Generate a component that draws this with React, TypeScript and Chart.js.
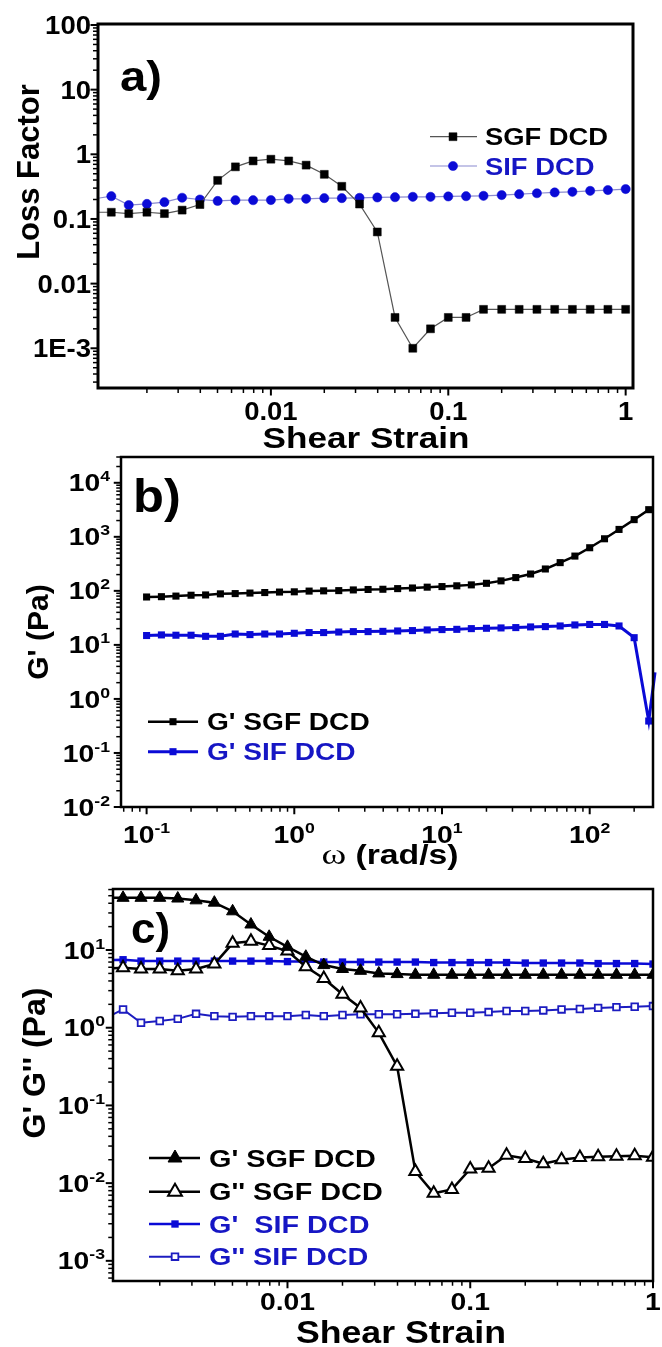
import React, { useEffect, useRef } from 'react';
import { Chart, registerables } from 'chart.js';

Chart.register(...registerables);

const SANS = '"Liberation Sans", Arial, Helvetica, sans-serif';
const SERIF = '"Liberation Serif", "Times New Roman", serif';
const INK = '#000000';
const BLUE = '#0a0ad6';
const BLUE_TEXT = '#1616c4';

// Shear strain sweep used in panels a) and c), ten points per decade
const strain = [
  0.001, 0.00126, 0.00158, 0.002, 0.00251, 0.00316, 0.00398, 0.00501, 0.00631, 0.00794,
  0.01, 0.0126, 0.0158, 0.02, 0.0251, 0.0316, 0.0398, 0.0501, 0.0631, 0.0794,
  0.1, 0.126, 0.158, 0.2, 0.251, 0.316, 0.398, 0.501, 0.631, 0.794, 1,
];

// a) loss factor (tan δ)
const lossSGF = [
  0.127, 0.127, 0.121, 0.127, 0.121, 0.137, 0.167, 0.395, 0.64, 0.79,
  0.84, 0.79, 0.68, 0.49, 0.32, 0.17, 0.063, 0.003, 0.001, 0.002,
  0.003, 0.003, 0.004, 0.004, 0.004, 0.004, 0.004, 0.004, 0.004, 0.004, 0.004,
];
const lossSIF = [
  0.204, 0.225, 0.164, 0.171, 0.182, 0.213, 0.2, 0.19, 0.195, 0.195,
  0.196, 0.205, 0.205, 0.21, 0.21, 0.212, 0.215, 0.217, 0.22, 0.22,
  0.223, 0.225, 0.228, 0.234, 0.242, 0.25, 0.257, 0.263, 0.272, 0.28, 0.29,
];

// b) frequency sweep, storage modulus
const omega = [
  0.1, 0.126, 0.158, 0.2, 0.251, 0.316, 0.398, 0.501, 0.631, 0.794,
  1, 1.26, 1.58, 2, 2.51, 3.16, 3.98, 5.01, 6.31, 7.94,
  10, 12.6, 15.8, 20, 25.1, 31.6, 39.8, 50.1, 63.1, 79.4,
  100, 126, 158, 200, 251,
];
const storageSGF = [
  77, 78, 80, 83, 84, 88, 89, 91, 93, 95,
  96, 99, 100, 101, 104, 106, 107, 110, 113, 117,
  120, 124, 129, 138, 153, 176, 205, 254, 333, 440,
  628, 920, 1370, 2080, 3180,
];
const omegaSIF = [
  0.1, 0.126, 0.158, 0.2, 0.251, 0.316, 0.398, 0.501, 0.631, 0.794,
  1, 1.26, 1.58, 2, 2.51, 3.16, 3.98, 5.01, 6.31, 7.94,
  10, 12.6, 15.8, 20, 25.1, 31.6, 39.8, 50.1, 63.1, 79.4,
  100, 126, 158, 200, 251, 277,
];
const storageSIF = [
  14.9, 15.3, 15.1, 15.1, 14.4, 14.4, 15.9, 15.5, 15.9, 15.9,
  16.4, 16.9, 16.9, 17.3, 17.6, 17.6, 17.8, 18.1, 18.4, 18.9,
  19.2, 19.4, 20.0, 20.3, 20.6, 20.9, 21.5, 21.8, 22.4, 23.4,
  23.9, 23.9, 22.4, 13.6, 0.39, 3.1,
];

// c) amplitude sweep, G' and G''
const gPrimeSGF = [
  47, 47, 47, 47, 46, 43.6, 40.7, 31.5, 21.3, 14.8,
  11, 8.2, 6.4, 5.7, 5.4, 5.0, 4.9, 4.8, 4.8, 4.8,
  4.8, 4.8, 4.8, 4.8, 4.8, 4.8, 4.8, 4.8, 4.8, 4.8, 4.8,
];
const gDoublePrimeSGF = [
  5.8, 5.9, 5.7, 5.7, 5.4, 5.7, 6.6, 12.2, 13.0, 11.4,
  9.7, 6.1, 4.3, 2.7, 1.8, 0.86, 0.32, 0.0141, 0.0074, 0.0083,
  0.0152, 0.0155, 0.0228, 0.0207, 0.0178, 0.02, 0.0214, 0.0219, 0.0222, 0.0225, 0.0216,
];
const gPrimeSIF = [
  7.4, 7.5, 7.2, 7.2, 7.2, 7.2, 7.2, 7.2, 7.2, 7.2,
  7.1, 7.1, 7.0, 7.0, 7.0, 7.0, 7.0, 7.0, 6.9, 6.9,
  6.9, 6.9, 6.9, 6.8, 6.8, 6.8, 6.8, 6.7, 6.7, 6.7, 6.6,
];
const gDoublePrimeSIF = [
  1.31, 1.72, 1.16, 1.22, 1.3, 1.51, 1.41, 1.38, 1.41, 1.41,
  1.41, 1.46, 1.41, 1.46, 1.49, 1.49, 1.49, 1.51, 1.53, 1.56,
  1.56, 1.59, 1.64, 1.64, 1.67, 1.72, 1.74, 1.8, 1.84, 1.86, 1.9,
];

// Tick labels
const aXTicks = [0.01, 0.1, 1];
const aXTickLabels = ['0.01', '0.1', '1'];
const aYTicks = [100, 10, 1, 0.1, 0.01, 0.001];
const aYTickLabels = ['100', '10', '1', '0.1', '0.01', '1E-3'];
const bXTicks = [0.1, 1, 10, 100];
const bXTickExp = ['-1', '0', '1', '2'];
const bYTicks = [10000, 1000, 100, 10, 1, 0.1, 0.01];
const bYTickExp = ['4', '3', '2', '1', '0', '-1', '-2'];
const cXTicks = [0.01, 0.1, 1];
const cXTickLabels = ['0.01', '0.1', '1'];
const cYTicks = [10, 1, 0.1, 0.01, 0.001];
const cYTickExp = ['1', '0', '-1', '-2', '-3'];

type Tick = { value: number; text: string; sup?: string };
type Marker = 'rect' | 'circle' | 'triangle';
type LegendEntry = {
  text: string;
  textColor: string;
  lineColor: string;
  lineWidth: number;
  marker: Marker;
  r: number;
  fill: string;
  stroke: string;
  markerLine: number;
};
type Run = { text: string; font: string };
type Decor = {
  frameWidth: number;
  majorLen: number;
  minorLen: number;
  tickFont: number;
  supFont: number;
  supRaise: number;
  tickSx: number;
  xTicks: Tick[];
  yTicks: Tick[];
  xLabelBaseline: number;
  yLabelRight: number;
  panel: { text: string; x: number; baseline: number; size: number; sx: number };
  xTitle: { runs: Run[]; cx: number; baseline: number; sx: number };
  yTitle: { text: string; cx: number; cy: number; size: number };
  legend: {
    x0: number; x1: number; xm: number; xt: number; ys: number[];
    size: number; sx: number; items: LegendEntry[];
  };
};

function drawMarker(
  ctx: CanvasRenderingContext2D, m: Marker, x: number, y: number, r: number,
  fill: string, stroke: string, lw: number,
) {
  ctx.beginPath();
  if (m === 'circle') {
    ctx.arc(x, y, r, 0, Math.PI * 2);
  } else if (m === 'rect') {
    const s = Math.SQRT1_2 * r;
    ctx.rect(x - s, y - s, 2 * s, 2 * s);
  } else {
    const a = (2 * Math.PI) / 3;
    ctx.moveTo(x, y - r);
    ctx.lineTo(x + Math.sin(a) * r, y - Math.cos(a) * r);
    ctx.lineTo(x + Math.sin(2 * a) * r, y - Math.cos(2 * a) * r);
    ctx.closePath();
  }
  ctx.fillStyle = fill;
  ctx.fill();
  if (lw > 0) {
    ctx.lineWidth = lw;
    ctx.strokeStyle = stroke;
    ctx.stroke();
  }
}

function wideText(ctx: CanvasRenderingContext2D, text: string, x: number, y: number, font: string, sx: number, color: string) {
  ctx.save();
  ctx.translate(x, y);
  ctx.scale(sx, 1);
  ctx.font = font;
  ctx.fillStyle = color;
  ctx.textAlign = 'left';
  ctx.textBaseline = 'alphabetic';
  ctx.fillText(text, 0, 0);
  ctx.restore();
}

function textWidth(ctx: CanvasRenderingContext2D, text: string, font: string) {
  ctx.font = font;
  return ctx.measureText(text).width;
}

function logSteps(min: number, max: number) {
  const out: { v: number; major: boolean }[] = [];
  for (let e = Math.floor(Math.log10(min)); e <= Math.ceil(Math.log10(max)); e++) {
    for (let m = 1; m <= 9; m++) {
      const v = m * Math.pow(10, e);
      if (v >= min * 0.9999 && v <= max * 1.0001) out.push({ v, major: m === 1 });
    }
  }
  return out;
}

function makeDecor(o: Decor) {
  return {
    id: 'decor',
    afterDatasetsDraw(chart: Chart) {
      const ctx = chart.ctx;
      const { left, right, top, bottom } = chart.chartArea;
      const xs: any = chart.scales.x;
      const ys: any = chart.scales.y;
      const fw = o.frameWidth;
      ctx.save();

      // frame
      ctx.strokeStyle = INK;
      ctx.lineWidth = fw;
      ctx.strokeRect(left, top, right - left, bottom - top);

      // outward ticks on the bottom and left axes
      ctx.lineCap = 'butt';
      for (const t of logSteps(xs.min, xs.max)) {
        const px = xs.getPixelForValue(t.v);
        ctx.lineWidth = t.major ? 2 : 1.5;
        ctx.beginPath();
        ctx.moveTo(px, bottom);
        ctx.lineTo(px, bottom + fw / 2 + (t.major ? o.majorLen : o.minorLen));
        ctx.stroke();
      }
      for (const t of logSteps(ys.min, ys.max)) {
        const py = ys.getPixelForValue(t.v);
        ctx.lineWidth = t.major ? 2 : 1.5;
        ctx.beginPath();
        ctx.moveTo(left, py);
        ctx.lineTo(left - fw / 2 - (t.major ? o.majorLen : o.minorLen), py);
        ctx.stroke();
      }

      // tick labels
      const baseFont = `bold ${o.tickFont}px ${SANS}`;
      const supFont = `bold ${o.supFont}px ${SANS}`;
      const label = (t: Tick, x: number, baseline: number, align: 'center' | 'right') => {
        const wb = textWidth(ctx, t.text, baseFont);
        const ws = t.sup ? textWidth(ctx, t.sup, supFont) : 0;
        const total = (wb + ws) * o.tickSx;
        const start = align === 'center' ? x - total / 2 : x - total;
        wideText(ctx, t.text, start, baseline, baseFont, o.tickSx, INK);
        if (t.sup) wideText(ctx, t.sup, start + wb * o.tickSx, baseline - o.supRaise, supFont, o.tickSx, INK);
      };
      for (const t of o.xTicks) label(t, xs.getPixelForValue(t.value), o.xLabelBaseline, 'center');
      const cap = o.tickFont * 0.716;
      for (const t of o.yTicks) label(t, o.yLabelRight, ys.getPixelForValue(t.value) + cap / 2, 'right');

      // axis titles
      const xt = o.xTitle;
      const widths = xt.runs.map((r) => textWidth(ctx, r.text, r.font) * xt.sx);
      let cursor = xt.cx - widths.reduce((a, b) => a + b, 0) / 2;
      xt.runs.forEach((r, i) => {
        wideText(ctx, r.text, cursor, xt.baseline, r.font, xt.sx, INK);
        cursor += widths[i];
      });
      const yt = o.yTitle;
      ctx.save();
      ctx.translate(yt.cx, yt.cy);
      ctx.rotate(-Math.PI / 2);
      ctx.font = `bold ${yt.size}px ${SANS}`;
      ctx.fillStyle = INK;
      ctx.textAlign = 'center';
      ctx.textBaseline = 'middle';
      ctx.fillText(yt.text, 0, 0);
      ctx.restore();

      // panel letter
      const p = o.panel;
      wideText(ctx, p.text, p.x, p.baseline, `bold ${p.size}px ${SANS}`, p.sx, INK);

      // legend
      const lg = o.legend;
      const lfont = `bold ${lg.size}px ${SANS}`;
      lg.items.forEach((it, i) => {
        const y = lg.ys[i];
        ctx.strokeStyle = it.lineColor;
        ctx.lineWidth = it.lineWidth;
        ctx.beginPath();
        ctx.moveTo(lg.x0, y);
        ctx.lineTo(lg.x1, y);
        ctx.stroke();
        drawMarker(ctx, it.marker, lg.xm, y, it.r, it.fill, it.stroke, it.markerLine);
        wideText(ctx, it.text, lg.xt, y + lg.size * 0.358, lfont, lg.sx, it.textColor);
      });

      ctx.restore();
    },
  };
}

const pairs = (xs: number[], ys: number[]) => xs.map((x, i) => ({ x, y: ys[i] }));

function baseOptions(pad: { left: number; right: number; top: number; bottom: number }, xr: number[], yr: number[]) {
  return {
    animation: false as const,
    responsive: true,
    maintainAspectRatio: false,
    events: [] as any[],
    layout: { padding: pad },
    plugins: { legend: { display: false }, tooltip: { enabled: false } },
    elements: { line: { tension: 0 } },
    scales: {
      x: { type: 'logarithmic' as const, min: xr[0], max: xr[1], display: false },
      y: { type: 'logarithmic' as const, min: yr[0], max: yr[1], display: false },
    },
  };
}

function buildA(canvas: HTMLCanvasElement) {
  const decor = makeDecor({
    frameWidth: 3, majorLen: 6, minorLen: 3.5,
    tickFont: 25, supFont: 15, supRaise: 10, tickSx: 1.1,
    xTicks: aXTicks.map((v, i) => ({ value: v, text: aXTickLabels[i] })),
    yTicks: aYTicks.map((v, i) => ({ value: v, text: aYTickLabels[i] })),
    xLabelBaseline: 420, yLabelRight: 91,
    panel: { text: 'a)', x: 120, baseline: 91, size: 43, sx: 1.1 },
    xTitle: { runs: [{ text: 'Shear Strain', font: `bold 30px ${SANS}` }], cx: 366, baseline: 448, sx: 1.17 },
    yTitle: { text: 'Loss Factor', cx: 30, cy: 172, size: 31 },
    legend: {
      x0: 430, x1: 477, xm: 453, xt: 485, ys: [136.7, 166], size: 24, sx: 1.14,
      items: [
        { text: 'SGF DCD', textColor: INK, lineColor: '#555555', lineWidth: 1.2, marker: 'rect', r: 5.6, fill: INK, stroke: INK, markerLine: 0.5 },
        { text: 'SIF DCD', textColor: BLUE_TEXT, lineColor: '#8a8ad0', lineWidth: 1.2, marker: 'circle', r: 4.6, fill: BLUE, stroke: BLUE, markerLine: 0.5 },
      ],
    },
  });
  return new Chart(canvas, {
    type: 'line',
    data: {
      datasets: [
        {
          label: 'SGF DCD', data: pairs(strain, lossSGF),
          borderColor: '#555555', borderWidth: 1.2,
          pointStyle: 'rect', pointRadius: 5.6, pointBackgroundColor: INK, pointBorderColor: INK, pointBorderWidth: 0.5,
        },
        {
          label: 'SIF DCD', data: pairs(strain, lossSIF),
          borderColor: '#8a8ad0', borderWidth: 1.2,
          pointStyle: 'circle', pointRadius: 4.6, pointBackgroundColor: BLUE, pointBorderColor: BLUE, pointBorderWidth: 0.5,
        },
      ],
    },
    options: baseOptions({ left: 98, right: 29, top: 24, bottom: 62 }, [0.00106, 1.1], [2.43e-4, 103.6]) as any,
    plugins: [decor as any],
  });
}

function buildB(canvas: HTMLCanvasElement) {
  const decor = makeDecor({
    frameWidth: 2.5, majorLen: 6, minorLen: 3.5,
    tickFont: 24, supFont: 15, supRaise: 10, tickSx: 1.18,
    xTicks: bXTicks.map((v, i) => ({ value: v, text: '10', sup: bXTickExp[i] })),
    yTicks: bYTicks.map((v, i) => ({ value: v, text: '10', sup: bYTickExp[i] })),
    xLabelBaseline: 403, yLabelRight: 110,
    panel: { text: 'b)', x: 133, baseline: 72, size: 46, sx: 1.1 },
    xTitle: {
      runs: [
        { text: 'ω', font: `30px ${SERIF}` },
        { text: ' (rad/s)', font: `bold 27px ${SANS}` },
      ],
      cx: 390, baseline: 424, sx: 1.25,
    },
    yTitle: { text: "G' (Pa)", cx: 40, cy: 192, size: 30 },
    legend: {
      x0: 148, x1: 198, xm: 173, xt: 207, ys: [281.7, 311.7], size: 24, sx: 1.17,
      items: [
        { text: "G' SGF DCD", textColor: INK, lineColor: INK, lineWidth: 2.5, marker: 'rect', r: 5, fill: INK, stroke: INK, markerLine: 0 },
        { text: "G' SIF DCD", textColor: BLUE_TEXT, lineColor: BLUE, lineWidth: 3, marker: 'rect', r: 5, fill: BLUE, stroke: BLUE, markerLine: 0 },
      ],
    },
  });
  return new Chart(canvas, {
    type: 'line',
    data: {
      datasets: [
        {
          label: "G' SGF DCD", data: pairs(omega, storageSGF),
          borderColor: INK, borderWidth: 2.5,
          pointStyle: 'rect', pointRadius: 5, pointBackgroundColor: INK, pointBorderColor: INK, pointBorderWidth: 0,
        },
        {
          label: "G' SIF DCD", data: pairs(omegaSIF, storageSIF),
          borderColor: BLUE, borderWidth: 3,
          pointStyle: 'rect', pointRadius: omegaSIF.map((_, i) => (i === omegaSIF.length - 1 ? 0 : 5)),
          pointBackgroundColor: BLUE, pointBorderColor: BLUE, pointBorderWidth: 0,
          clip: { left: 1, top: 1, right: 4, bottom: 1 },
        },
      ],
    },
    options: baseOptions({ left: 121, right: 9, top: 17, bottom: 73 }, [0.0671, 268.3], [0.01, 30000]) as any,
    plugins: [decor as any],
  });
}

function buildC(canvas: HTMLCanvasElement) {
  const decor = makeDecor({
    frameWidth: 2.5, majorLen: 6, minorLen: 3.5,
    tickFont: 24, supFont: 15, supRaise: 10, tickSx: 1.18,
    xTicks: cXTicks.map((v, i) => ({ value: v, text: cXTickLabels[i] })),
    yTicks: cYTicks.map((v, i) => ({ value: v, text: '10', sup: cYTickExp[i] })),
    xLabelBaseline: 430, yLabelRight: 105,
    panel: { text: 'c)', x: 131, baseline: 63, size: 42, sx: 1.05 },
    xTitle: { runs: [{ text: 'Shear Strain', font: `bold 31px ${SANS}` }], cx: 401, baseline: 463, sx: 1.15 },
    yTitle: { text: "G' G'' (Pa)", cx: 36, cy: 183, size: 32 },
    legend: {
      x0: 149, x1: 200, xm: 175, xt: 209, ys: [278, 311.7, 344, 376.7], size: 24, sx: 1.2,
      items: [
        { text: "G' SGF DCD", textColor: INK, lineColor: INK, lineWidth: 2.5, marker: 'triangle', r: 8, fill: INK, stroke: INK, markerLine: 1 },
        { text: "G'' SGF DCD", textColor: INK, lineColor: INK, lineWidth: 2.5, marker: 'triangle', r: 8, fill: '#ffffff', stroke: INK, markerLine: 2 },
        { text: "G'  SIF DCD", textColor: BLUE_TEXT, lineColor: BLUE, lineWidth: 2.5, marker: 'rect', r: 5.2, fill: BLUE, stroke: BLUE, markerLine: 0 },
        { text: "G'' SIF DCD", textColor: BLUE_TEXT, lineColor: '#1c1cc0', lineWidth: 2, marker: 'rect', r: 4.7, fill: '#ffffff', stroke: '#1c1cc0', markerLine: 1.8 },
      ],
    },
  });
  return new Chart(canvas, {
    type: 'line',
    data: {
      datasets: [
        {
          label: "G' SGF DCD", data: pairs(strain, gPrimeSGF),
          borderColor: INK, borderWidth: 2.5,
          pointStyle: 'triangle', pointRadius: 7, pointBackgroundColor: INK, pointBorderColor: INK, pointBorderWidth: 1,
        },
        {
          label: "G'' SGF DCD", data: pairs(strain, gDoublePrimeSGF),
          borderColor: INK, borderWidth: 2.5,
          pointStyle: 'triangle', pointRadius: 7, pointBackgroundColor: '#ffffff', pointBorderColor: INK, pointBorderWidth: 2,
        },
        {
          label: "G' SIF DCD", data: pairs(strain, gPrimeSIF),
          borderColor: BLUE, borderWidth: 2.5,
          pointStyle: 'rect', pointRadius: 5.2, pointBackgroundColor: BLUE, pointBorderColor: BLUE, pointBorderWidth: 0,
        },
        {
          label: "G'' SIF DCD", data: pairs(strain, gDoublePrimeSIF),
          borderColor: '#1c1cc0', borderWidth: 2,
          pointStyle: 'rect', pointRadius: 4.7, pointBackgroundColor: '#ffffff', pointBorderColor: '#1c1cc0', pointBorderWidth: 1.8,
        },
      ],
    },
    options: baseOptions({ left: 113, right: 3, top: 7, bottom: 66 }, [0.00111, 1.0], [5.5e-4, 61]) as any,
    plugins: [decor as any],
  });
}

function Panel({ top, height, build }: { top: number; height: number; build: (c: HTMLCanvasElement) => Chart }) {
  const ref = useRef<HTMLCanvasElement>(null);
  useEffect(() => {
    const chart = build(ref.current as HTMLCanvasElement);
    return () => chart.destroy();
  }, [build]);
  return (
    <div style={{ position: 'absolute', left: 0, top, width: 662, height }}>
      <canvas ref={ref} />
    </div>
  );
}

export default function App() {
  return (
    <div style={{ position: 'absolute', left: 0, top: 0, width: 662, height: 1347, background: '#ffffff' }}>
      <Panel top={0} height={450} build={buildA} />
      <Panel top={440} height={440} build={buildB} />
      <Panel top={880} height={467} build={buildC} />
    </div>
  );
}
